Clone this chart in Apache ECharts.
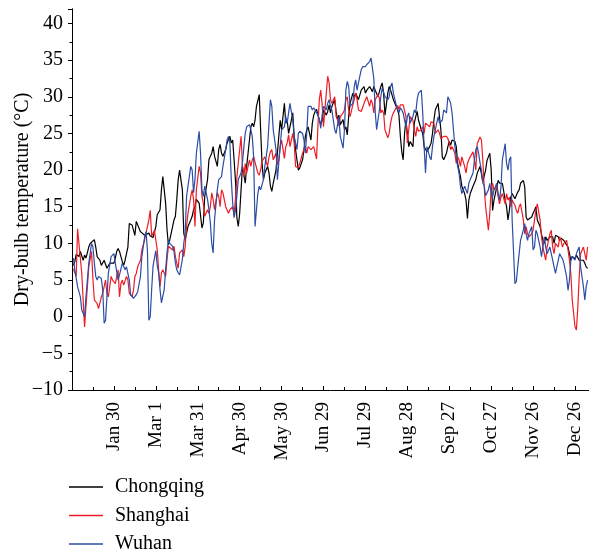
<!DOCTYPE html>
<html>
<head>
<meta charset="utf-8">
<script src="https://cdn.jsdelivr.net/npm/echarts@6/dist/echarts.min.js"></script>
<style>
html,body{margin:0;padding:0;background:#fff;}
#chart{width:589px;height:554px;}
</style>
</head>
<body>
<div id="chart"></div>
<script>
// Day-of-year tick positions and their labels
const tickDays = [30, 60, 90, 120, 150, 180, 210, 240, 270, 300, 330, 360];
const tickLabels = ['Jan 30', 'Mar 1', 'Mar 31', 'Apr 30', 'May 30', 'Jun 29', 'Jul 29', 'Aug 28', 'Sep 27', 'Oct 27', 'Nov 26', 'Dec 26'];
const seriesNames = ['Chongqing', 'Shanghai', 'Wuhan'];

// [day of year, dry-bulb temperature (°C)]
const chongqing = [
[1,7.0],[2,7.5],[3,8.5],[5,8.2],[6,8.9],[8,7.7],[9,8.4],[10,8.0],[12,9.5],[13,10.0],[14,10.2],[16,10.5],[17,9.5],[18,8.2],[20,7.7],[21,7.0],[23,7.7],[25,6.6],[26,6.8],[27,7.3],[28,7.5],[30,7.3],[31,8.0],[32,8.9],[33,9.3],[34,8.9],[36,7.5],[37,7.0],[38,7.7],[40,9.5],
[41,12.7],[43,12.5],[45,11.1],[46,13.0],[47,13.2],[49,11.6],[50,11.4],[52,11.1],[55,11.4],[56,11.0],[57,10.9],[58,10.8],[60,12.3],[61,13.9],[63,14.6],[64,17.3],[65,19.1],[66,19.1],[67,15.5],[68,11.9],[69,9.8],[70,10.5],[72,12.3],[73,13.2],[74,13.7],[75,16.0],[76,18.7],[77,20.0],[78,20.1],[79,17.3],[80,11.4],
[81,10.5],[82,11.4],[83,12.3],[85,13.2],[86,13.7],[87,14.6],[88,15.0],[89,16.0],[91,15.5],[92,15.3],[93,12.1],[94,12.8],[95,16.4],[97,18.7],[98,21.4],[99,21.9],[100,22.3],[101,23.2],[102,21.9],[104,20.5],[105,22.8],[106,23.5],[107,22.3],[108,21.9],[110,22.8],[111,23.7],[113,24.6],[114,23.7],[115,24.1],[116,21.4],[117,18.5],[118,13.5],[119,12.3],[120,14.1],
[121,17.3],[122,20.5],[123,20.5],[124,18.2],[125,20.5],[127,24.1],[128,25.9],[129,26.4],[130,25.9],[131,26.8],[132,28.7],[134,30.3],[135,25.5],[136,20.9],[137,18.7],[138,19.6],[140,20.5],[141,19.6],[142,17.8],[143,17.1],[144,18.2],[146,20.0],[147,22.3],[148,24.6],[149,26.8],[150,25.5],[152,29.1],[153,26.4],[154,26.8],[155,25.0],[156,25.9],[158,27.8],[159,24.6],[160,22.8],
[161,21.4],[162,20.0],[163,20.3],[165,21.4],[166,22.8],[167,24.6],[168,25.5],[169,25.9],[171,24.1],[172,26.4],[173,27.5],[174,28.0],[175,28.3],[176,27.5],[177,27.3],[178,26.2],[179,26.7],[180,28.2],[182,27.5],[183,28.0],[184,28.9],[185,27.8],[186,28.7],[188,29.6],[189,28.0],[190,26.9],[191,27.5],[192,26.2],[194,26.9],[195,25.5],[196,25.9],[197,24.8],[198,27.3],[199,29.1],
[201,30.5],[202,30.0],[203,30.5],[204,30.7],[205,29.6],[207,30.9],[208,30.7],[209,31.4],[210,30.5],[211,30.9],[213,31.4],[214,31.2],[215,30.7],[216,31.4],[217,30.9],[219,30.0],[220,30.7],[221,31.4],[222,31.9],[223,30.5],[224,27.5],[226,30.5],[227,31.4],[228,30.9],[229,30.7],[230,29.6],[232,28.7],[233,28.2],[234,27.5],[235,24.6],[236,22.5],[237,21.4],[238,25.0],[239,26.8],[240,25.0],
[241,23.2],[242,23.9],[244,23.2],[245,26.4],[246,27.3],[247,28.0],[248,26.8],[250,25.5],[251,25.0],[252,23.2],[253,22.8],[254,22.5],[256,23.2],[257,23.7],[258,25.0],[259,26.8],[260,28.2],[262,29.1],[263,27.3],[264,25.5],[265,21.8],[266,21.4],[268,22.3],[269,23.2],[270,23.9],[271,23.4],[272,24.1],[274,23.9],[275,23.2],[276,20.9],[277,20.0],[278,19.1],[279,17.8],
[281,16.8],[282,15.9],[283,13.4],[284,15.9],[285,16.8],[287,17.8],[288,18.0],[289,18.7],[290,19.6],[291,20.0],[292,20.5],[293,19.5],[294,18.4],[295,18.4],[296,20.0],[297,21.3],[298,21.8],[299,22.3],[300,20.0],[301,14.5],[302,15.9],[304,17.7],[305,18.6],[306,18.2],[307,18.4],[308,18.2],[310,15.9],[311,15.0],[312,13.2],[313,14.5],[314,16.3],[315,16.8],[317,16.1],[318,16.3],[319,17.0],[320,17.3],
[321,18.2],[323,18.6],[324,17.7],[325,13.6],[326,13.2],[327,13.4],[329,13.6],[330,14.1],[331,14.5],[332,15.0],[333,13.2],[335,12.3],[336,11.3],[337,10.4],[338,10.0],[339,10.9],[340,10.4],[342,10.9],[343,10.7],[344,10.9],[345,10.0],[346,11.1],[348,10.9],[349,10.4],[350,10.7],[351,10.9],[352,10.4],[354,9.8],[355,9.5],[356,8.6],[357,7.7],[358,8.2],[360,7.9],
[361,8.4],[362,8.6],[363,7.7],[364,7.5],[366,7.7],[367,7.3],[368,6.8],[369,6.6]
];

const shanghai = [
[1,6.5],[3,5.5],[4,12.0],[7,5.9],[9,-1.4],[10,1.4],[12,6.8],[14,8.9],[15,5.0],[16,2.3],[18,1.8],[19,1.1],[21,2.7],[22,3.2],[24,5.0],[25,3.2],[26,2.7],[28,5.5],[29,5.0],[31,4.5],[33,6.4],[34,2.7],[35,4.5],[36,5.0],[37,4.3],[39,5.5],[40,5.0],
[41,3.2],[43,2.7],[44,3.6],[45,5.5],[46,5.9],[47,6.8],[49,7.7],[50,9.1],[52,10.5],[53,10.7],[55,13.2],[56,14.5],[57,11.0],[58,10.8],[59,11.8],[60,11.9],[61,9.1],[62,6.4],[63,4.1],[64,6.0],[65,6.4],[67,5.5],[68,7.8],[69,9.6],[70,9.8],[72,9.1],[73,9.6],[74,8.2],[75,7.3],[76,6.6],[77,8.7],[79,9.1],[80,8.2],
[81,9.6],[82,12.3],[83,14.1],[85,16.4],[86,17.3],[87,16.0],[88,12.3],[89,17.3],[91,20.5],[92,19.6],[93,16.4],[94,15.5],[95,13.7],[97,14.6],[98,14.1],[99,15.0],[100,16.9],[101,16.0],[102,14.6],[104,16.9],[105,16.4],[106,15.0],[107,17.3],[108,16.9],[110,15.0],[111,15.0],[112,14.1],[113,14.6],[114,14.7],[115,15.0],[116,13.9],[117,16.2],[118,19.0],[119,21.0],[120,22.8],
[121,24.6],[122,20.5],[123,19.1],[124,20.9],[125,19.6],[127,21.4],[128,20.5],[129,21.4],[130,21.8],[131,21.6],[133,19.6],[134,19.3],[135,20.0],[136,21.2],[137,21.4],[138,21.8],[140,20.5],[141,21.8],[142,22.5],[143,22.8],[144,21.4],[146,22.3],[147,20.7],[148,21.4],[149,23.2],[150,24.1],[152,21.6],[153,23.2],[154,23.7],[155,24.8],[156,23.2],[158,25.0],[159,23.7],[160,20.5],
[161,20.5],[162,20.3],[163,20.9],[165,22.3],[166,22.8],[167,23.2],[168,22.3],[169,23.2],[171,22.8],[172,23.0],[173,23.2],[174,23.2],[175,21.5],[176,26.0],[177,29.6],[178,30.9],[179,29.0],[180,25.9],[182,30.5],[183,32.8],[184,31.9],[185,29.6],[186,29.1],[188,30.0],[189,27.3],[190,26.9],[191,26.0],[192,27.3],[194,27.8],[195,28.2],[196,29.6],[197,30.0],[198,28.2],[199,27.3],
[201,28.9],[202,29.6],[203,30.5],[204,29.6],[205,28.2],[207,28.0],[208,28.2],[209,29.1],[210,29.6],[211,30.0],[213,28.7],[214,29.6],[215,29.1],[216,27.8],[217,29.6],[219,30.3],[220,29.8],[221,27.8],[222,28.2],[223,27.8],[224,25.5],[226,24.4],[227,25.0],[228,26.4],[229,27.3],[230,27.8],[232,28.5],[233,28.8],[234,28.3],[235,28.9],[236,29.1],[237,28.9],[238,29.0],[239,27.3],[240,23.7],
[241,25.5],[242,27.3],[244,26.8],[245,25.5],[246,24.6],[247,25.9],[248,25.3],[250,25.5],[251,25.9],[252,25.0],[253,26.4],[254,26.4],[256,25.9],[257,26.6],[258,26.8],[259,26.4],[260,25.0],[262,25.5],[263,25.0],[264,24.3],[265,24.1],[266,24.6],[268,24.6],[269,24.3],[270,23.7],[271,22.8],[272,23.2],[274,22.3],[275,20.9],[276,21.8],[277,21.4],[278,20.5],[279,21.8],
[281,20.5],[282,19.6],[283,20.9],[284,21.4],[285,21.8],[287,22.5],[288,21.4],[289,20.0],[290,23.6],[292,24.5],[293,24.1],[294,21.4],[295,17.7],[296,15.0],[298,11.8],[299,14.1],[300,17.7],[301,18.2],[302,17.3],[304,17.7],[305,16.3],[306,15.4],[307,16.3],[308,16.8],[310,15.4],[311,16.8],[312,15.9],[313,16.3],[314,15.0],[315,15.9],[317,15.2],[318,14.5],[319,14.1],[320,15.0],
[321,15.4],[323,13.2],[324,11.3],[325,12.3],[326,11.3],[327,10.9],[329,11.3],[330,11.8],[331,13.2],[332,14.5],[333,15.4],[335,13.2],[336,10.9],[337,9.5],[338,8.6],[339,7.7],[340,9.5],[342,11.3],[343,11.8],[344,9.5],[345,8.6],[346,10.0],[348,9.5],[349,10.9],[350,10.4],[351,9.5],[352,10.0],[354,10.4],[355,9.1],[356,7.7],[357,5.9],[358,2.3],[360,-1.4],
[361,-1.8],[362,1.3],[363,5.4],[364,8.6],[366,9.5],[367,8.6],[368,7.7],[369,9.5]
];

const wuhan = [
[1,8.0],[2,6.4],[4,4.1],[6,2.7],[7,0.9],[9,0.0],[10,2.7],[12,7.3],[14,10.0],[15,9.5],[16,7.3],[17,5.5],[18,5.0],[19,5.5],[21,5.2],[22,3.6],[23,-0.9],[24,-0.5],[25,2.7],[26,5.9],[28,8.2],[30,8.6],[31,7.3],[33,5.0],[34,5.7],[36,7.3],[37,7.5],[38,6.4],[39,6.8],
[41,5.0],[42,3.0],[44,2.5],[45,2.5],[46,3.0],[47,3.4],[49,5.5],[50,8.2],[52,10.9],[53,11.6],[54,9.0],[55,-0.5],[56,0.0],[57,3.7],[58,6.9],[59,8.0],[60,9.0],[61,7.0],[62,6.0],[63,3.7],[64,1.9],[66,3.7],[67,6.4],[68,8.7],[69,10.5],[70,10.0],[72,9.6],[73,8.9],[74,7.3],[75,6.4],[76,6.0],[77,5.7],[79,7.8],[80,10.0],
[81,11.4],[82,16.4],[83,17.8],[85,20.5],[86,20.0],[87,16.9],[88,18.7],[89,22.3],[91,25.3],[92,22.3],[93,17.3],[94,16.4],[95,17.8],[97,16.0],[98,14.6],[99,12.8],[100,10.0],[101,8.7],[102,13.2],[104,17.3],[105,18.7],[106,18.9],[107,19.1],[108,20.5],[110,22.8],[111,24.1],[112,24.6],[113,23.7],[114,18.7],[115,15.5],[116,13.5],[117,14.5],[118,16.5],[119,18.7],[120,18.5],
[121,19.6],[122,21.0],[123,23.2],[124,25.0],[125,25.9],[127,26.2],[128,25.5],[129,24.6],[130,21.8],[131,12.3],[132,12.1],[133,16.8],[134,17.8],[135,17.3],[137,18.7],[138,20.5],[140,23.2],[141,26.4],[142,29.6],[143,28.7],[144,25.5],[146,22.8],[147,18.7],[148,21.0],[149,23.2],[150,25.5],[152,25.9],[153,27.3],[154,26.4],[155,27.8],[156,29.1],[158,26.8],[159,24.6],[160,23.7],
[161,22.8],[162,25.0],[163,25.3],[165,25.0],[166,24.1],[167,22.3],[168,25.0],[169,28.7],[171,28.7],[172,28.2],[173,28.5],[174,28.2],[175,28.3],[176,27.5],[177,27.0],[178,25.7],[179,27.5],[180,28.7],[182,28.2],[183,29.1],[184,29.6],[185,28.7],[186,28.2],[188,25.5],[189,25.0],[190,25.0],[191,27.3],[192,24.6],[194,23.0],[195,25.5],[196,30.9],[197,32.1],[198,31.4],[199,28.7],
[201,29.1],[202,31.4],[203,32.3],[204,30.9],[205,31.9],[207,33.7],[208,34.1],[209,33.9],[210,34.1],[211,34.4],[213,34.8],[214,35.3],[215,35.5],[216,32.5],[217,28.0],[218,25.5],[220,28.2],[221,30.0],[222,31.2],[223,31.4],[224,30.0],[226,29.6],[227,30.0],[228,31.4],[229,31.9],[230,30.5],[232,28.9],[233,28.9],[234,27.8],[235,28.5],[236,28.2],[237,27.8],[238,26.8],[239,25.9],[240,27.3],
[241,27.8],[242,26.4],[244,27.3],[245,28.2],[246,27.8],[247,29.6],[248,30.5],[250,30.9],[251,27.8],[252,23.2],[253,19.6],[254,23.2],[256,21.8],[257,21.4],[258,23.2],[259,24.6],[260,25.5],[262,27.3],[263,26.4],[264,26.4],[265,26.8],[266,28.2],[268,27.8],[269,30.0],[270,29.6],[271,29.1],[272,27.8],[273,25.5],[274,23.2],[275,21.8],[276,20.5],[277,19.6],[278,17.8],[279,16.8],
[281,17.8],[282,17.3],[283,16.8],[284,18.2],[285,18.7],[287,19.6],[288,21.4],[289,22.8],[290,23.2],[291,22.3],[292,21.0],[293,20.0],[294,18.2],[295,17.9],[296,16.5],[298,17.3],[299,18.2],[300,16.8],[301,16.3],[302,17.3],[304,18.2],[305,16.8],[306,15.9],[307,17.7],[308,21.4],[310,23.6],[311,20.9],[312,20.0],[313,21.4],[314,21.8],[315,13.2],[317,4.5],[318,4.8],[319,6.8],[320,8.6],
[321,10.4],[323,11.8],[324,12.7],[325,11.3],[326,10.4],[327,11.3],[329,12.3],[330,9.1],[331,9.5],[332,11.8],[333,11.3],[335,9.5],[336,8.2],[337,9.5],[338,10.9],[339,9.5],[340,8.6],[342,9.5],[343,8.6],[344,7.7],[345,6.8],[346,5.9],[348,7.7],[349,8.6],[350,8.2],[351,7.9],[352,7.3],[354,5.4],[355,3.6],[356,5.0],[357,7.7],[358,8.2],[360,7.7],
[361,8.6],[362,9.1],[363,9.5],[364,6.8],[366,4.1],[367,2.3],[368,4.1],[369,5.0]
];

const FONT = '"Liberation Serif", "DejaVu Serif", serif';
const colors = ['#000000', '#ee1c24', '#2b4da6'];
const allData = [chongqing, shanghai, wuhan];

const chart = echarts.init(document.getElementById('chart'), null, {renderer: 'canvas'});
chart.setOption({
  animation: false,
  backgroundColor: '#ffffff',
  color: colors,
  grid: {left: 72, width: 517, top: 8.8, bottom: 164, containLabel: false, outerBoundsMode: 'none'},
  legend: {
    orient: 'vertical',
    left: 69,
    top: 477,
    height: 100,
    padding: 0,
    icon: 'rect',
    itemWidth: 34,
    itemHeight: 1.5,
    itemGap: 8.5,
    textStyle: {fontFamily: FONT, fontSize: 20, color: '#000', padding: [0, 0, 0, 7]},
    data: seriesNames
  },
  xAxis: {
    type: 'value',
    min: 0,
    max: 370,
    interval: 30,
    axisLine: {show: true, onZero: false, lineStyle: {color: '#000', width: 1}},
    axisTick: {show: true, inside: true, length: 4, lineStyle: {color: '#000'}},
    minorTick: {show: true, splitNumber: 2, length: 3, lineStyle: {color: '#000'}},
    splitLine: {show: false},
    axisLabel: {
      rotate: 90,
      margin: 12,
      fontFamily: FONT,
      fontSize: 19,
      color: '#000',
      formatter: function (v) {
        const i = tickDays.indexOf(v);
        return i >= 0 ? tickLabels[i] : '';
      }
    }
  },
  yAxis: {
    type: 'value',
    min: -10,
    max: 42,
    interval: 5,
    name: 'Dry-bulb temperature (\u00B0C)',
    nameLocation: 'middle',
    nameGap: 39,
    nameMoveOverlap: false,
    nameTextStyle: {fontFamily: FONT, fontSize: 20, color: '#000'},
    axisLine: {show: true, lineStyle: {color: '#000', width: 1}},
    axisTick: {show: true, inside: false, length: 4, lineStyle: {color: '#000'}},
    minorTick: {show: true, splitNumber: 2, length: 2.5, lineStyle: {color: '#000'}},
    splitLine: {show: false},
    axisLabel: {
      margin: 9,
      fontFamily: FONT,
      fontSize: 20,
      color: '#000',
      showMaxLabel: false,
      formatter: function (v) {
        if (v % 5 !== 0) return '';
        return v < 0 ? '\u2212' + Math.abs(v) : String(v);
      }
    }
  },
  series: seriesNames.map(function (name, i) {
    return {
      name: name,
      type: 'line',
      data: allData[i],
      showSymbol: false,
      symbol: 'none',
      lineStyle: {width: 1.2, color: colors[i]},
      itemStyle: {color: colors[i]},
      z: 2 + i
    };
  })
});
</script>
</body>
</html>
